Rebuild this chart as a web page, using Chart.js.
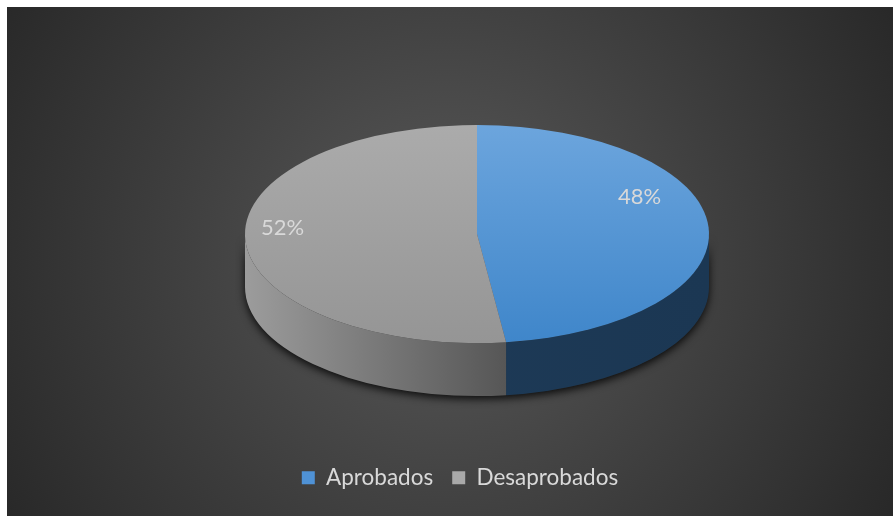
<!DOCTYPE html>
<html>
<head>
<meta charset="utf-8">
<script src="https://cdn.jsdelivr.net/npm/chart.js@4.4.0/dist/chart.umd.min.js"></script>
<style>
  html, body { margin: 0; padding: 0; background: #fff; }
  #wrap { position: absolute; left: 7px; top: 7px; width: 886px; height: 509px; }
</style>
</head>
<body>
<div id="wrap"><canvas id="chart"></canvas></div>
<script>
// chart data
const categories = ["Aprobados", "Desaprobados"];
const values = [48, 52];
const legendColors = ["#4f92d6", "#a9a9a9"];

// look of the 3d pie
const topColors = [["#6ca5dd", "#3f86ca"], ["#ababab", "#959595"]];
const sideColors = [["#1f3c59", "#1b3753"], ["#9c9c9c", "#545454"]];
const labelPlace = [{ frac: 0.37, r: 0.78 }, { frac: 0.54, r: 0.84 }];

const pie3d = {
  id: "pie3d",
  beforeDraw(chart) {
    const { ctx, width, height } = chart;
    const g = ctx.createRadialGradient(440, 250, 20, 440, 250, 560);
    g.addColorStop(0, "#575757");
    g.addColorStop(1, "#242424");
    ctx.save();
    ctx.fillStyle = g;
    ctx.fillRect(0, 0, width, height);
    ctx.restore();
  },
  beforeDatasetsDraw(chart, args, opts) {
    const { ctx } = chart;
    const arcs = chart.getDatasetMeta(0).data;
    const cx = opts.cx, cy = opts.cy, rx = opts.rx, ry = opts.ry, d = opts.depth;

    // shadow under the wall
    ctx.save();
    ctx.shadowColor = "rgba(0,0,0,0.85)";
    ctx.shadowBlur = 9;
    ctx.shadowOffsetY = 3;
    ctx.fillStyle = "#222";
    ctx.beginPath();
    ctx.ellipse(cx, cy, rx, ry, 0, 0, Math.PI);
    ctx.ellipse(cx, cy + d, rx, ry, 0, Math.PI, 0, true);
    ctx.closePath();
    ctx.fill();
    ctx.restore();

    // front walls, from the library's arcs
    arcs.forEach((arc, i) => {
      const p = arc.getProps(["startAngle", "endAngle"], true);
      const a = Math.max(p.startAngle, 0);
      const b = Math.min(p.endAngle, Math.PI);
      if (b <= a) return;
      const g = ctx.createLinearGradient(cx - rx, 0, cx + rx, 0);
      if (i === 0) {
        g.addColorStop(0, sideColors[0][0]);
        g.addColorStop(1, sideColors[0][1]);
      } else {
        g.addColorStop(0, sideColors[1][0]);
        g.addColorStop(0.58, sideColors[1][1]);
        g.addColorStop(1, sideColors[1][1]);
      }
      ctx.save();
      ctx.fillStyle = g;
      ctx.beginPath();
      ctx.ellipse(cx, cy, rx, ry, 0, a, b);
      ctx.ellipse(cx, cy + d, rx, ry, 0, b, a, true);
      ctx.closePath();
      ctx.fill();
      ctx.restore();
    });

    // squash the flat pie onto the top face
    const a0 = arcs[0];
    const r = a0.outerRadius;
    ctx.save();
    ctx.translate(cx, cy);
    ctx.scale(rx / r, ry / r);
    ctx.translate(-a0.x, -a0.y);
  },
  afterDatasetsDraw(chart, args, opts) {
    const { ctx } = chart;
    ctx.restore();
    const arcs = chart.getDatasetMeta(0).data;
    const total = values.reduce((s, v) => s + v, 0);
    ctx.save();
    ctx.fillStyle = "#d9d9d9";
    ctx.font = "22px Lato";
    ctx.textAlign = "center";
    ctx.textBaseline = "middle";
    arcs.forEach((arc, i) => {
      const p = arc.getProps(["startAngle", "endAngle"], true);
      const pl = labelPlace[i];
      const ang = p.startAngle + pl.frac * (p.endAngle - p.startAngle);
      const x = opts.cx + Math.cos(ang) * opts.rx * pl.r;
      const y = opts.cy + Math.sin(ang) * opts.ry * pl.r;
      ctx.fillText(Math.round(values[i] / total * 100) + "%", x, y);
    });
    ctx.restore();
  }
};

function topGradient(c) {
  const area = c.chart.chartArea;
  if (!area) return topColors[c.dataIndex][0];
  const cy = (area.top + area.bottom) / 2;
  const r = Math.min(area.right - area.left, area.bottom - area.top) / 2;
  const g = c.chart.ctx.createLinearGradient(0, cy - r, 0, cy + r);
  g.addColorStop(0, topColors[c.dataIndex][0]);
  g.addColorStop(1, topColors[c.dataIndex][1]);
  return g;
}

Chart.defaults.font.family = "Lato";

new Chart(document.getElementById("chart"), {
  type: "pie",
  data: {
    labels: categories,
    datasets: [
      {
        data: values,
        backgroundColor: topGradient,
        borderWidth: 0,
      },
    ],
  },
  options: {
    responsive: true,
    maintainAspectRatio: false,
    animation: false,
    layout: { padding: { top: 10, bottom: 17, left: 20 } },
    plugins: {
      tooltip: { enabled: false },
      pie3d: { cx: 470, cy: 227, rx: 232, ry: 109, depth: 53 },
      legend: {
        position: "bottom",
        labels: {
          boxWidth: 13,
          boxHeight: 13,
          padding: 19,
          color: "#d9d9d9",
          font: { size: 22.5 },
          generateLabels(chart) {
            const items = Chart.overrides.pie.plugins.legend.labels.generateLabels(chart);
            items.forEach((it, i) => {
              it.fillStyle = legendColors[i];
              it.strokeStyle = legendColors[i];
              it.lineWidth = 0;
            });
            return items;
          },
        },
      },
    },
  },
  plugins: [pie3d],
});
</script>
</body>
</html>
